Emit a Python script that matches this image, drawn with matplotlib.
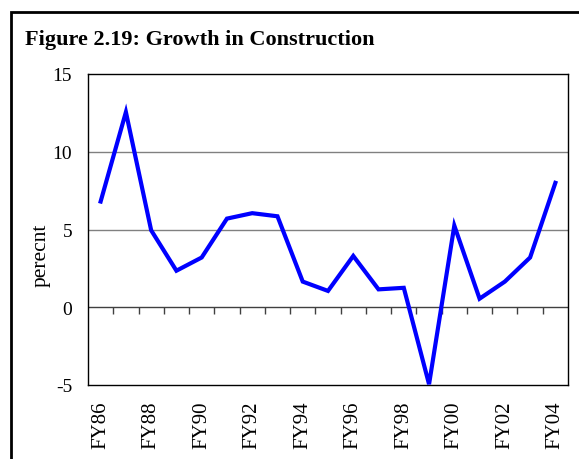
import matplotlib
matplotlib.use("Agg")
import matplotlib.pyplot as plt
from matplotlib.patches import Rectangle

categories = ["FY86", "FY87", "FY88", "FY89", "FY90", "FY91", "FY92", "FY93", "FY94", "FY95",
              "FY96", "FY97", "FY98", "FY99", "FY00", "FY01", "FY02", "FY03", "FY04"]
growth = [6.8, 12.55, 4.95, 2.35, 3.2, 5.7, 6.05, 5.85, 1.65, 1.05,
          3.3, 1.15, 1.25, -4.95, 5.25, 0.55, 1.65, 3.2, 8.0]
yticks = [-5, 0, 5, 10, 15]

plt.rcParams['font.family'] = ['Liberation Serif', 'DejaVu Serif']
plt.rcParams['axes.unicode_minus'] = False

W, H = 579, 460
fig = plt.figure(figsize=(W / 100, H / 100), dpi=100)

# outer frame
fig.patches.append(Rectangle((11 / W, -0.05), 1.2, (H - 13) / H + 0.05, transform=fig.transFigure,
                             fill=False, edgecolor='black', linewidth=2.0))

left, right, top, bottom = 88, 568, 75, 386
ax = fig.add_axes([left / W, 1 - bottom / H, (right - left) / W, (bottom - top) / H])

x = list(range(len(categories)))
ax.plot(x, growth, color='#0000ff', linewidth=3.0, solid_joinstyle='miter', zorder=3)

ax.set_xlim(-0.5, len(categories) - 0.5)
ax.set_ylim(yticks[0], yticks[-1])
ax.set_yticks(yticks)
ax.tick_params(axis='y', length=0, pad=11.5, labelsize=14)

for v in yticks[2:-1]:
    ax.axhline(v, color='#808080', linewidth=1.0, zorder=1)
ax.axhline(0, color='#404040', linewidth=1.0, zorder=2)

ax.set_xticks(x[::2])
ax.set_xticklabels(categories[::2], rotation=90)
ax.tick_params(axis='x', length=0, pad=11, labelsize=15)

sec = ax.secondary_xaxis((0 - yticks[0]) / (yticks[-1] - yticks[0]))
sec.set_xticks([i - 0.5 for i in range(1, len(categories))])
sec.set_xticklabels([])
sec.tick_params(axis='x', direction='out', length=5, width=1, color='#404040')
sec.spines['bottom'].set_visible(False)

for s in ax.spines.values():
    s.set_color('black')
    s.set_linewidth(1.0)

fig.text(25 / W, 1 - 40 / H, "Figure 2.19: Growth in Construction", fontsize=16,
         fontweight='bold', ha='left', va='center')
fig.text(41 / W, 1 - 255 / H, "perecnt", fontsize=15.5, rotation=90, ha='center', va='center')

fig.savefig("out.png", dpi=100)
